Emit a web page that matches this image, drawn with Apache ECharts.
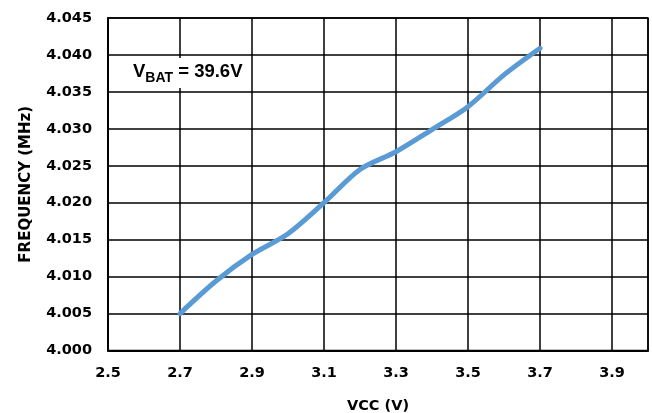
<!DOCTYPE html>
<html>
<head>
<meta charset="utf-8">
<script src="https://cdn.jsdelivr.net/npm/echarts@6/dist/echarts.min.js"></script>
<style>
html,body{margin:0;padding:0;background:#fff;}
#chart{width:652px;height:413px;}
</style>
</head>
<body>
<div id="chart"></div>
<script>
// Data
const vcc = [2.7, 2.8, 2.9, 3.0, 3.1, 3.2, 3.3, 3.4, 3.5, 3.6, 3.7];
const freq = [4.005, 4.0094, 4.0130, 4.0158, 4.0200, 4.0245, 4.0269, 4.0299, 4.0330, 4.0373, 4.0409];
const xTicks = [2.5, 2.7, 2.9, 3.1, 3.3, 3.5, 3.7, 3.9];
const yTicks = [4.000, 4.005, 4.010, 4.015, 4.020, 4.025, 4.030, 4.035, 4.040, 4.045];
const xTitle = 'VCC (V)';
const yTitle = 'FREQUENCY (MHz)';

const tickFont = 'DejaVu Sans';
const chart = echarts.init(document.getElementById('chart'), null, {renderer: 'canvas'});

chart.setOption({
  animation: false,
  backgroundColor: '#ffffff',
  grid: {
    left: 108, right: 4, top: 18, bottom: 62.5,
    outerBoundsMode: 'none',
    containLabel: false,
    show: true, borderColor: '#000', borderWidth: 1.5, backgroundColor: 'transparent'
  },
  xAxis: {
    type: 'value',
    min: xTicks[0],
    max: 4.0,
    interval: 0.2,
    name: xTitle,
    nameLocation: 'middle',
    nameGap: 48,
    nameTextStyle: {fontFamily: tickFont, fontWeight: 'bold', fontSize: 14.5, color: '#000'},
    axisLine: {show: true, lineStyle: {color: '#000', width: 2}},
    axisTick: {show: false},
    axisLabel: {
      margin: 15,
      showMaxLabel: false,
      fontFamily: tickFont, fontWeight: 'bold', fontSize: 14.5, color: '#000',
      formatter: v => (v > 3.95 ? '' : v.toFixed(1))
    },
    splitLine: {show: true, lineStyle: {color: '#000', width: 1.5}}
  },
  yAxis: {
    type: 'value',
    min: yTicks[0],
    max: yTicks[yTicks.length - 1],
    interval: 0.005,
    name: yTitle,
    nameLocation: 'middle',
    nameGap: 74,
    nameTextStyle: {fontFamily: tickFont, fontWeight: 'bold', fontSize: 15, color: '#000'},
    axisLine: {show: true, lineStyle: {color: '#000', width: 2}},
    axisTick: {show: false},
    axisLabel: {
      margin: 16,
      fontFamily: tickFont, fontWeight: 'bold', fontSize: 14.5, color: '#000',
      formatter: v => v.toFixed(3)
    },
    splitLine: {show: true, lineStyle: {color: '#000', width: 1.5}}
  },
  graphic: [
    {
      type: 'text',
      left: 130,
      top: 58,
      z: 100,
      style: {
        text: '{v|V}{s|BAT}{v| = 39.6V}',
        backgroundColor: '#fff',
        padding: [4, 4, 4, 3],
        rich: {
          v: {fontFamily: 'Liberation Sans', fontWeight: 'bold', fontSize: 18.5, fill: '#000', color: '#000', lineHeight: 22, verticalAlign: 'top'},
          s: {fontFamily: 'Liberation Sans', fontWeight: 'bold', fontSize: 14, fill: '#000', color: '#000', lineHeight: 22, padding: [9, 0, 0, 0], verticalAlign: 'top'}
        }
      }
    }
  ],
  series: [{
    type: 'line',
    data: vcc.map((x, i) => [x, freq[i]]),
    smooth: 0.3,
    showSymbol: false,
    lineStyle: {color: '#5B9BD5', width: 5, cap: 'round'},
    itemStyle: {color: '#5B9BD5'},
    z: 5
  }]
});
</script>
</body>
</html>
